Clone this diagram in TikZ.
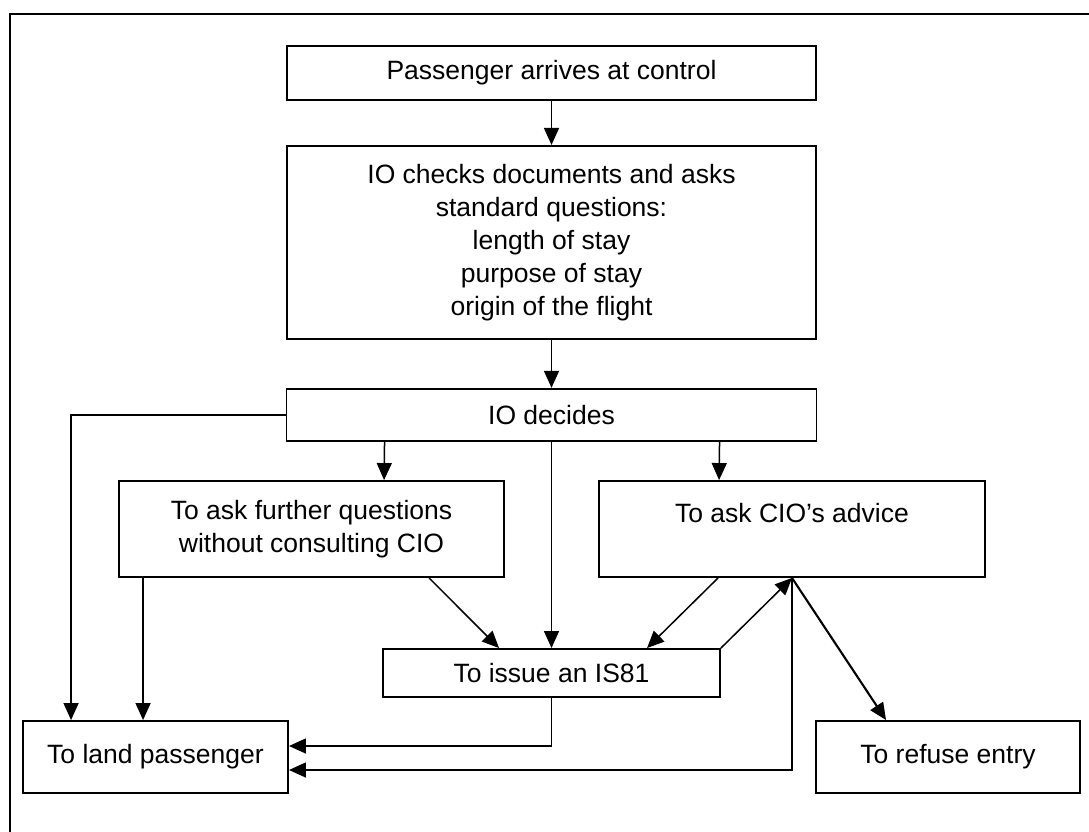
\documentclass[tikz,border=0pt]{standalone}
\usepackage{fontspec}
\setmainfont{Liberation Sans}
\usepackage{tikz}
\usetikzlibrary{arrows.meta, positioning}
\tikzset{box/.style={draw, line width=1.9pt, align=center, inner sep=0pt}}

\begin{document}
\begin{tikzpicture}[>={Triangle[length=17pt,width=15pt]}, line width=1.5pt, x=1pt, y=-1pt, every node/.style={font=\fontsize{26.5}{33}\selectfont}]
\useasboundingbox (0,0) rectangle (1089,832);
\draw[line width=2.4pt] (1089,14) -- (10,14) -- (10,832);
\node[box, minimum width=529pt, minimum height=54pt] (arrive) at (551.5,73) {Passenger arrives at control};
\node[box, minimum width=529pt, minimum height=193pt, below=44pt of arrive] (check) {IO checks documents and asks\\standard questions:\\length of stay\\purpose of stay\\origin of the flight};
\node[box, minimum width=530pt, minimum height=52pt, below=48pt of check] (decide) {IO decides};
\node[box, minimum width=385pt, minimum height=96pt] (further) at (311.5,529) {To ask further questions\\without consulting CIO};
\node[box, minimum width=386pt, minimum height=96pt] (cio) at (792,529) {To ask CIO’s advice\\\mbox{}};
\node[box, minimum width=337pt, minimum height=48pt] (issue) at (551.5,673) {To issue an IS81};
\node[box, minimum width=265pt, minimum height=72pt] (land) at (155.5,757) {To land passenger};
\node[box, minimum width=264pt, minimum height=72pt] (refuse) at (948,757) {To refuse entry};
\draw[->] (arrive) -- (check);
\draw[->] (check) -- (decide);
\draw[->] (decide.west) -| ([xshift=49pt]land.north west);
\draw[->] ([xshift=99pt]decide.south west) -- ([xshift=266pt]further.north west);
\draw[->] (decide.south) -- (decide.south |- issue.north);
\draw[->] ([xshift=434pt]decide.south west) -- ([xshift=121pt]cio.north west);
\draw[->] ([xshift=25pt]further.south west) -- ([xshift=121pt]land.north west);
\draw[->] ([xshift=311pt]further.south west) -- ([xshift=117pt]issue.north west);
\draw[->] ([xshift=120pt]cio.south west) -- ([xshift=265pt]issue.north west);
\draw[->] (issue.north east) -- (cio.south);
\draw[->, line width=2.1pt] (cio.south) -- ([xshift=71pt]refuse.north west);
\draw[->] (cio.south) |- ([yshift=-13pt]land.east);
\draw[->] (issue.south) |- ([yshift=11pt]land.east);
\end{tikzpicture}
\end{document}
